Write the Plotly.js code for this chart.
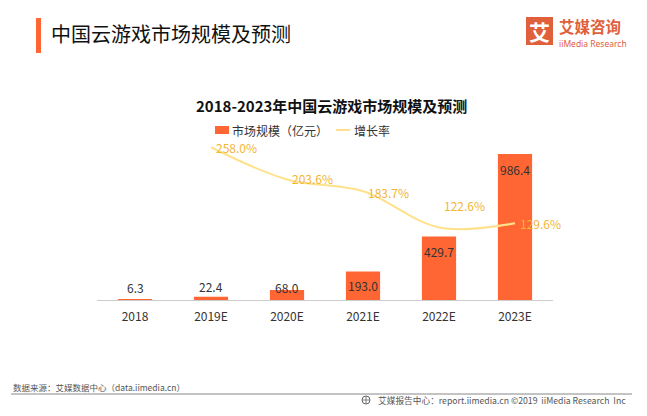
<!DOCTYPE html>
<html>
<head>
<meta charset="utf-8">
<script src="https://cdn.plot.ly/plotly-3.0.1.min.js"></script>
<style>html,body{margin:0;padding:0;background:#fff;}#chart{width:647px;height:416px;}</style>
</head>
<body>
<div id="chart"></div>
<script>
// ---- data ----
const categories = ['2018', '2019E', '2020E', '2021E', '2022E', '2023E'];
const marketSize = [6.3, 22.4, 68.0, 193.0, 429.7, 986.4];
const growthCategories = ['2019E', '2020E', '2021E', '2022E', '2023E'];
const growthRate = [258.0, 203.6, 183.7, 122.6, 129.6];
const seriesNames = ['市场规模（亿元）', '增长率'];

// ---- styles / positions ----
const W = 647, H = 416;
const L = 97, R = 553, T = 138, B = 300;
const px = x => (x - L) / (R - L);
const py = y => (B - y) / (B - T);
const barPxPerUnit = 0.148, ratePxPerUnit = 0.592;
const barColor = '#FF6633';
const lineColor = '#FFE18C';
const rateTextColor = '#F2B534';
const cjk = '"Noto Sans CJK SC", "Noto Sans", sans-serif';
const barLabelShift = [12, 10, 2, -14, -15, -15];
const rateLabelShift = [0, 1, -1, 22, 0];

const traces = [
  {
    type: 'bar', x: categories, y: marketSize, name: seriesNames[0],
    marker: {color: barColor}, hoverinfo: 'skip', showlegend: false
  },
  {
    type: 'scatter', mode: 'lines', x: growthCategories, y: growthRate, yaxis: 'y2',
    name: seriesNames[1], line: {color: lineColor, width: 2, shape: 'spline', smoothing: 1},
    hoverinfo: 'skip', showlegend: false, cliponaxis: false
  }
];

const annotations = [];
categories.forEach((c, i) => {
  annotations.push({x: i, y: marketSize[i], xref: 'x', yref: 'y', text: marketSize[i].toFixed(1),
    showarrow: false, yanchor: 'middle', xanchor: 'center', yshift: barLabelShift[i],
    font: {family: cjk, size: 12, color: '#333'}});
});
growthCategories.forEach((c, i) => {
  annotations.push({x: categories.indexOf(c), y: growthRate[i], xref: 'x', yref: 'y2', text: growthRate[i].toFixed(1) + '%',
    showarrow: false, yanchor: 'middle', xanchor: 'left', xshift: 3, yshift: rateLabelShift[i],
    font: {family: cjk, size: 12, color: rateTextColor}});
});
// chart title
annotations.push({xref: 'paper', yref: 'paper', x: px(331), y: py(105), xanchor: 'center', yanchor: 'middle',
  showarrow: false, text: '<b>2018-2023年中国云游戏市场规模及预测</b>',
  font: {family: cjk, size: 15, color: '#111'}});
// legend texts
annotations.push({xref: 'paper', yref: 'paper', x: px(230), y: py(130), xanchor: 'left', yanchor: 'middle',
  showarrow: false, text: seriesNames[0], font: {family: cjk, size: 12, color: '#333'}});
annotations.push({xref: 'paper', yref: 'paper', x: px(352), y: py(130), xanchor: 'left', yanchor: 'middle',
  showarrow: false, text: seriesNames[1], font: {family: cjk, size: 12, color: '#333'}});
// logo
annotations.push({xref: 'paper', yref: 'paper', x: px(539.5), y: py(31), xanchor: 'center', yanchor: 'middle',
  showarrow: false, text: '<b>艾</b>', font: {family: cjk, size: 21, color: '#fff'}});
annotations.push({xref: 'paper', yref: 'paper', x: px(557), y: py(26), xanchor: 'left', yanchor: 'middle',
  showarrow: false, text: '<b>艾媒咨询</b>', font: {family: cjk, size: 15.5, color: '#E0603C'}});
annotations.push({xref: 'paper', yref: 'paper', x: px(557), y: py(43), xanchor: 'left', yanchor: 'middle',
  showarrow: false, text: 'iiMedia Research', font: {family: '"Noto Sans", sans-serif', size: 8.5, color: '#E0603C'}});
// footer
annotations.push({xref: 'paper', yref: 'paper', x: px(11), y: py(387), xanchor: 'left', yanchor: 'middle',
  showarrow: false, text: '数据来源：艾媒数据中心（data.iimedia.cn）', font: {family: cjk, size: 8.5, color: '#555'}});
annotations.push({xref: 'paper', yref: 'paper', x: px(628), y: py(400), xanchor: 'right', yanchor: 'middle',
  showarrow: false, text: '艾媒报告中心：report.iimedia.cn ©2019  iiMedia Research  Inc', font: {family: cjk, size: 8.7, color: '#555'}});

const shapes = [
  // header accent bar
  {type: 'rect', xref: 'paper', yref: 'paper', x0: px(36), x1: px(41), y0: py(53), y1: py(18),
    fillcolor: barColor, line: {width: 0}},
  // logo square
  {type: 'rect', xref: 'paper', yref: 'paper', x0: px(526), x1: px(553), y0: py(45), y1: py(17),
    fillcolor: '#E0603C', line: {width: 0}},
  // legend symbols
  {type: 'rect', xref: 'paper', yref: 'paper', x0: px(215), x1: px(229), y0: py(134), y1: py(126),
    fillcolor: barColor, line: {width: 0}},
  {type: 'line', xref: 'paper', yref: 'paper', x0: px(336), x1: px(350), y0: py(130), y1: py(130),
    line: {color: lineColor, width: 2}},
  // footer rule
  {type: 'line', xref: 'paper', yref: 'paper', x0: px(11), x1: px(632), y0: py(394), y1: py(394),
    line: {color: '#888', width: 1}},
  // footer globe icon
  {type: 'circle', xref: 'paper', yref: 'paper', x0: px(362), x1: px(370), y0: py(404), y1: py(396),
    line: {color: '#666', width: 1}},
  {type: 'line', xref: 'paper', yref: 'paper', x0: px(362), x1: px(370), y0: py(400), y1: py(400),
    line: {color: '#666', width: 0.8}},
  {type: 'line', xref: 'paper', yref: 'paper', x0: px(366), x1: px(366), y0: py(404), y1: py(396),
    line: {color: '#666', width: 0.8}}
];

const layout = {
  width: W, height: H,
  margin: {l: L, r: W - R, t: T, b: H - B, pad: 0},
  paper_bgcolor: '#fff', plot_bgcolor: '#fff',
  title: {text: '中国云游戏市场规模及预测', xref: 'container', yref: 'container',
    x: 51 / W, xanchor: 'left', y: 1 - 35 / H, yanchor: 'middle',
    font: {family: cjk, size: 20, color: '#111'}},
  showlegend: false,
  bargap: 0.55,
  xaxis: {type: 'category', categoryorder: 'array', categoryarray: categories,
    range: [-0.5, categories.length - 0.5], autorange: false,
    showline: true, linecolor: '#ccc', linewidth: 1, ticks: '', showgrid: false, zeroline: false,
    tickfont: {family: cjk, size: 12, color: '#333'}, ticklabelstandoff: 6, fixedrange: true},
  yaxis: {range: [0, (B - T) / barPxPerUnit], autorange: false, visible: false, showgrid: false, zeroline: false, fixedrange: true},
  yaxis2: {range: [0, (B - T) / ratePxPerUnit], autorange: false, overlaying: 'y', visible: false, showgrid: false, zeroline: false, fixedrange: true},
  annotations: annotations,
  shapes: shapes
};

Plotly.newPlot('chart', traces, layout, {displayModeBar: false, staticPlot: true});
</script>
</body>
</html>
